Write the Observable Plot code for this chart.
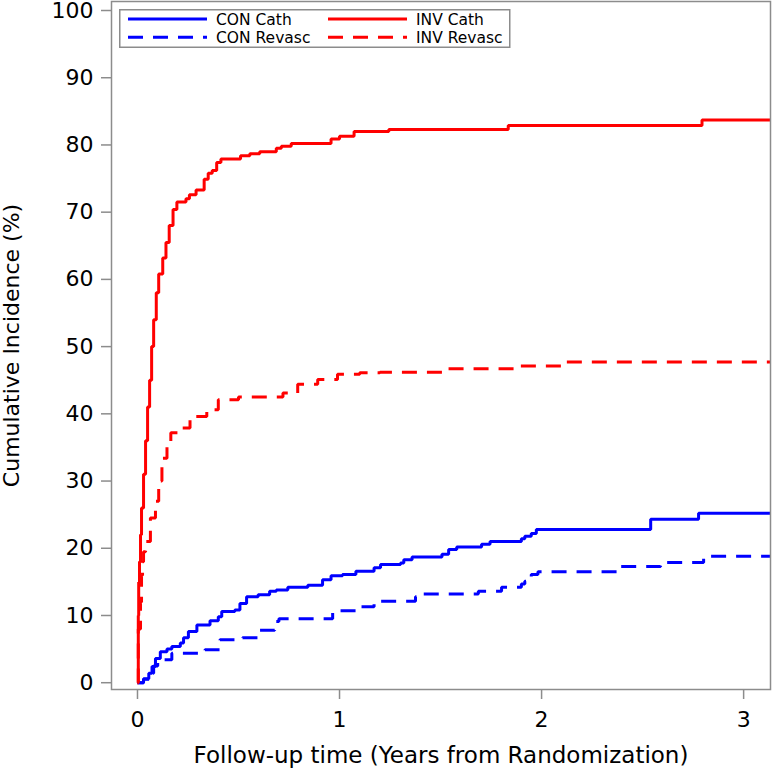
<!DOCTYPE html>
<html>
<head>
<meta charset="utf-8">
<script src="https://cdn.jsdelivr.net/npm/d3@7"></script>
<script src="https://cdn.jsdelivr.net/npm/@observablehq/plot@0.6"></script>
<style>
  html, body { margin: 0; padding: 0; background: #fff; }
  #wrap { position: relative; width: 772px; height: 771px; font-family: "DejaVu Sans", sans-serif; }
  #legend { position: absolute; left: 119px; top: 9px; }
</style>
</head>
<body>
<div id="wrap"><div id="chart"></div><div id="legend"></div></div>
<script>
// Series: [years, cumulative incidence %]
const conCath = [
  [0,0],[0.03,0.6],[0.056,1.4],[0.072,2.4],[0.089,3.6],[0.113,4.6],[0.146,5.0],[0.17,5.4],
  [0.212,5.9],[0.228,6.7],[0.252,7.6],[0.294,8.6],[0.359,9.2],[0.4,9.8],[0.417,10.6],
  [0.482,10.8],[0.507,11.8],[0.54,12.8],[0.597,13.1],[0.654,13.6],[0.687,13.8],[0.744,14.2],
  [0.843,14.5],[0.916,15.3],[0.958,15.9],[1.015,16.1],[1.081,16.6],[1.171,17.1],[1.203,17.6],
  [1.302,17.8],[1.318,18.3],[1.359,18.7],[1.507,19.1],[1.54,19.8],[1.58,20.2],[1.703,20.6],
  [1.745,21.0],[1.9,21.4],[1.917,21.8],[1.949,22.2],[1.974,22.8],[2.54,24.3],[2.777,25.2],[3.133,25.2]
];
const conRevasc = [
  [0,0],[0.03,0.5],[0.06,1.4],[0.08,2.5],[0.1,3.4],[0.17,4.4],[0.334,4.9],[0.408,6.4],
  [0.52,6.7],[0.597,7.8],[0.679,9.1],[0.7,9.5],[0.966,10.7],[1.081,11.3],[1.171,12.1],
  [1.376,12.8],[1.392,13.2],[1.687,13.6],[1.802,14.2],[1.9,14.7],[1.917,15.1],[1.949,16.1],
  [1.982,16.5],[2.376,17.3],[2.589,17.9],[2.802,18.8],[3.133,18.8]
];
const invCath = [
  [0,0],[0.004,10],[0.006,15],[0.01,18],[0.015,22],[0.02,26],[0.03,31],[0.04,36],[0.05,41],
  [0.06,45],[0.07,50],[0.08,54],[0.093,58],[0.105,60.8],[0.125,63.2],[0.141,65.5],[0.157,68],
  [0.176,70.4],[0.195,71.5],[0.24,72.0],[0.257,72.6],[0.29,73.3],[0.33,74.9],[0.35,75.8],
  [0.37,76.2],[0.392,77.4],[0.413,77.9],[0.51,78.4],[0.556,78.7],[0.605,79.0],[0.687,79.5],
  [0.712,79.8],[0.761,80.2],[0.958,80.9],[1.0,81.3],[1.072,82.0],[1.244,82.3],[1.835,82.9],
  [2.794,83.7],[3.133,83.7]
];
const invRevasc = [
  [0,0],[0.004,8],[0.015,12],[0.02,16],[0.025,18],[0.03,19.5],[0.04,21],[0.064,24.5],
  [0.089,27],[0.105,30],[0.121,33.4],[0.146,35.9],[0.165,37.2],[0.21,37.9],[0.26,39.6],
  [0.343,40.6],[0.4,42.1],[0.5,42.5],[0.72,43.1],[0.793,44.4],[0.892,45.1],[0.99,45.9],
  [1.1,46.1],[1.2,46.2],[1.53,46.7],[1.884,47.1],[2.105,47.7],[3.133,47.7]
];
const seriesNames = ["CON Cath", "INV Cath", "CON Revasc", "INV Revasc"];
const seriesData = [conCath, invCath, conRevasc, invRevasc];
const seriesColors = ["#0000ff", "#ff0000", "#0000ff", "#ff0000"];
const seriesDash = [null, null, "15,10", "15,10"];
const xTicks = [0, 1, 2, 3];
const yTicks = [0, 10, 20, 30, 40, 50, 60, 70, 80, 90, 100];

const gray = "#8c8c8c";
const lineMarks = seriesData.map((d, i) => Plot.line(d, {
  x: p => p[0], y: p => p[1], curve: "step-after",
  stroke: seriesColors[i], strokeWidth: 3, strokeDasharray: seriesDash[i] || undefined,
  strokeLinejoin: "miter", strokeLinecap: "butt"
}));

const chart = Plot.plot({
  width: 772, height: 771,
  marginLeft: 111, marginRight: 2, marginTop: 1, marginBottom: 82,
  style: { fontFamily: "DejaVu Sans", fontSize: "22px", color: "#000", background: "#fff", overflow: "visible" },
  x: { domain: [-0.1286, 3.133] },
  y: { domain: [-1.01, 101.34] },
  marks: [
    ...lineMarks,
    Plot.frame({ stroke: gray, strokeWidth: 1.5 }),
    Plot.axisX({ ticks: xTicks, tickSize: 10, tickPadding: 12, stroke: gray, strokeWidth: 1.5,
      fill: "#000", fontSize: 22, tickFormat: d3.format("d"), label: null }),
    Plot.axisX({ ticks: [], tickSize: 0, fontSize: 23, fill: "#000",
      label: "Follow-up time (Years from Randomization)", labelAnchor: "center", labelOffset: 73, labelArrow: "none" }),
    Plot.axisY({ ticks: yTicks, tickSize: 10, tickPadding: 8, stroke: gray, strokeWidth: 1.5,
      fill: "#000", fontSize: 22, tickFormat: d3.format("d"),
      label: "Cumulative Incidence (%)", labelAnchor: "center", labelOffset: 108, labelArrow: "none" })
  ]
});
document.getElementById("chart").appendChild(chart);

// Legend (inside plot frame, top-left)
const ns = "http://www.w3.org/2000/svg";
const lg = document.createElementNS(ns, "svg");
lg.setAttribute("width", 392); lg.setAttribute("height", 40);
lg.style.fontFamily = "DejaVu Sans";
const box = document.createElementNS(ns, "rect");
box.setAttribute("x", 0.75); box.setAttribute("y", 0.75); box.setAttribute("width", 390); box.setAttribute("height", 37.5);
box.setAttribute("fill", "#fff"); box.setAttribute("stroke", gray); box.setAttribute("stroke-width", 1.5);
lg.appendChild(box);
seriesNames.forEach((name, i) => {
  const col = i % 2, row = Math.floor(i / 2);
  const x0 = 9 + col * 200, y0 = 10 + row * 18.3;
  const ln = document.createElementNS(ns, "line");
  ln.setAttribute("x1", x0); ln.setAttribute("x2", x0 + 79);
  ln.setAttribute("y1", y0); ln.setAttribute("y2", y0);
  ln.setAttribute("stroke", seriesColors[i]); ln.setAttribute("stroke-width", 3);
  if (seriesDash[i]) ln.setAttribute("stroke-dasharray", seriesDash[i]);
  lg.appendChild(ln);
  const tx = document.createElementNS(ns, "text");
  tx.setAttribute("x", x0 + 88); tx.setAttribute("y", y0);
  tx.setAttribute("dy", "0.36em"); tx.setAttribute("font-size", 15.5); tx.setAttribute("fill", "#000");
  tx.textContent = name;
  lg.appendChild(tx);
});
document.getElementById("legend").appendChild(lg);
</script>
</body>
</html>
